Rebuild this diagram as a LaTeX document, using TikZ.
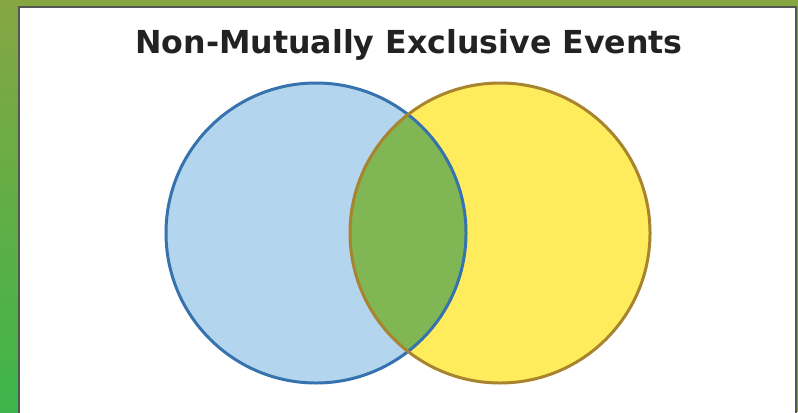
\documentclass[tikz,border=0pt]{standalone}
\usepackage{fontspec}
\setmainfont{DejaVu Sans}
\begin{document}
\begin{tikzpicture}[x=0.01cm,y=-0.01cm]
\definecolor{olive}{HTML}{86A642}
\definecolor{grn}{HTML}{3DB54A}
\definecolor{bluefill}{HTML}{B4D5EE}
\definecolor{bluedraw}{HTML}{3572AE}
\definecolor{yelfill}{HTML}{FFEC5C}
\definecolor{yeldraw}{HTML}{A8842F}
\definecolor{midfill}{HTML}{80B654}
\definecolor{titlecol}{HTML}{222222}
\definecolor{framecol}{HTML}{555555}
\useasboundingbox (0,0) rectangle (798,412);
% frame background
\fill[olive] (0,0) rectangle (798,412);
\shade[top color=olive,bottom color=grn] (0,0) rectangle (18,412);
% white panel
\fill[white,draw=framecol,line width=0.8pt] (19,7) rectangle (796,420);
% title
\node[font=\bfseries\fontsize{9pt}{11pt}\selectfont,text=titlecol,anchor=base] (title) at (409,53) {Non-Mutually Exclusive Events};
% circles
\coordinate (A) at (316,233);
\coordinate (B) at (500,233);
\fill[bluefill] (A) circle (150);
\fill[yelfill] (B) circle (150);
\begin{scope}
\clip (A) circle (150);
\fill[midfill] (B) circle (150);
\end{scope}
\draw[bluedraw,line width=0.85pt] (A) circle (150);
\draw[yeldraw,line width=0.85pt] (B) circle (150);
\end{tikzpicture}
\end{document}
